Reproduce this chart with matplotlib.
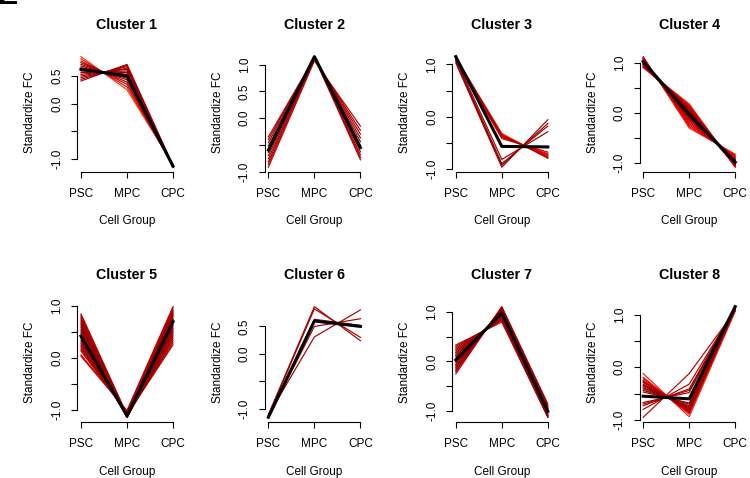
import numpy as np
import matplotlib
matplotlib.use("Agg")
import matplotlib.pyplot as plt
from matplotlib.colors import LinearSegmentedColormap

plt.rcParams['font.family'] = ['Liberation Sans', 'DejaVu Sans']

groups = ["PSC", "MPC", "CPC"]
titles = ["Cluster 1", "Cluster 2", "Cluster 3", "Cluster 4",
          "Cluster 5", "Cluster 6", "Cluster 7", "Cluster 8"]

# standardized fold change per gene: PSC, MPC, CPC, plus cluster membership
c1_psc = [0.85, 0.81, 0.77, 0.74, 0.71, 0.68, 0.65, 0.62, 0.59, 0.56, 0.53, 0.50, 0.47, 0.44, 0.41]
c1_mpc = [0.25, 0.30, 0.35, 0.39, 0.43, 0.46, 0.49, 0.53, 0.56, 0.59, 0.62, 0.64, 0.67, 0.69, 0.71]
c1_cpc = [-1.10, -1.11, -1.12, -1.13, -1.14, -1.14, -1.14, -1.15, -1.15, -1.15, -1.15, -1.14, -1.14, -1.13, -1.12]
c1_memb = [0.1, 0.3, 0.6, 0.75, 0.85, 0.9, 0.95, 0.95, 0.95, 0.9, 0.9, 0.85, 0.8, 0.75, 0.7]

c2_psc = [-0.35, -0.40, -0.46, -0.52, -0.58, -0.64, -0.70, -0.76, -0.82, -0.87, -0.92]
c2_mpc = [1.13, 1.14, 1.15, 1.15, 1.15, 1.15, 1.14, 1.13, 1.12, 1.10, 1.07]
c2_cpc = [-0.78, -0.74, -0.69, -0.63, -0.57, -0.51, -0.44, -0.37, -0.30, -0.23, -0.15]
c2_memb = [0.55, 0.75, 0.85, 0.9, 0.95, 0.9, 0.85, 0.8, 0.75, 0.65, 0.55]

c3_psc = [1.13, 1.13, 1.12, 1.12, 1.11, 1.11, 1.10, 1.14, 1.11, 1.08, 1.06, 1.03]
c3_mpc = [-0.32, -0.34, -0.35, -0.37, -0.38, -0.40, -0.42, -0.36, -0.82, -0.90, -0.93, -0.97]
c3_cpc = [-0.80, -0.79, -0.77, -0.75, -0.73, -0.71, -0.68, -0.78, -0.29, -0.18, -0.13, -0.06]
c3_memb = [0.2, 0.25, 0.3, 0.35, 0.4, 0.45, 0.55, 0.8, 0.85, 0.85, 0.9, 0.9]

c4_psc = [0.90, 0.91, 0.92, 0.94, 0.95, 0.96, 0.97, 0.98, 0.99, 1.00, 1.01, 1.02, 1.03,
          1.04, 1.05, 1.06, 1.07, 1.08, 1.09, 1.10, 1.11, 1.12, 0.93, 1.00, 1.03, 0.97]
c4_mpc = [0.18, 0.16, 0.14, 0.12, 0.10, 0.08, 0.06, 0.04, 0.02, 0.00, -0.02, -0.04, -0.06,
          -0.08, -0.10, -0.12, -0.15, -0.18, -0.21, -0.24, -0.27, -0.30, 0.05, -0.08, 0.02, -0.03]
c4_cpc = [-1.08, -1.07, -1.06, -1.06, -1.05, -1.04, -1.03, -1.02, -1.01, -1.00, -0.99, -0.98, -0.97,
          -0.96, -0.95, -0.94, -0.92, -0.90, -0.88, -0.86, -0.84, -0.82, -0.98, -0.92, -1.05, -0.94]
c4_memb = [0.2, 0.3, 0.4, 0.5, 0.6, 0.7, 0.8, 0.85, 0.9, 0.95, 0.95, 0.9, 0.85,
           0.8, 0.75, 0.7, 0.6, 0.5, 0.45, 0.35, 0.3, 0.2, 0.4, 0.45, 0.35, 0.55]

c5_psc = [0.85, 0.82, 0.79, 0.76, 0.73, 0.70, 0.67, 0.64, 0.61, 0.58, 0.55, 0.52, 0.49,
          0.46, 0.43, 0.40, 0.37, 0.34, 0.31, 0.28, 0.25, 0.22, 0.19, 0.16, 0.13, 0.06, 0.03]
c5_mpc = [-1.10, -1.11, -1.12, -1.13, -1.14, -1.14, -1.15, -1.15, -1.15, -1.15, -1.15, -1.15, -1.15,
          -1.15, -1.14, -1.14, -1.13, -1.13, -1.12, -1.11, -1.10, -1.09, -1.08, -1.07, -1.06, -1.03, -1.02]
c5_cpc = [0.25, 0.29, 0.33, 0.37, 0.41, 0.44, 0.48, 0.51, 0.54, 0.57, 0.60, 0.63, 0.66,
          0.69, 0.71, 0.74, 0.76, 0.79, 0.81, 0.83, 0.85, 0.87, 0.89, 0.91, 0.93, 0.97, 0.99]
c5_memb = [0.6, 0.65, 0.7, 0.75, 0.8, 0.85, 0.85, 0.9, 0.9, 0.95, 0.95, 0.95, 0.95,
           0.95, 0.9, 0.9, 0.85, 0.85, 0.8, 0.8, 0.75, 0.7, 0.7, 0.65, 0.6, 0.6, 0.55]

c6_psc = [-1.10, -1.12, -1.15, -1.14, -1.11]
c6_mpc = [0.86, 0.82, 0.63, 0.50, 0.31]
c6_cpc = [0.24, 0.30, 0.52, 0.64, 0.80]
c6_memb = [0.75, 0.8, 0.9, 0.85, 0.75]

c7_psc = [0.33, 0.30, 0.27, 0.24, 0.21, 0.18, 0.15, 0.12, 0.09, 0.06, 0.03, 0.00,
          -0.03, -0.06, -0.09, -0.12, -0.15, -0.18, -0.21, -0.25]
c7_mpc = [0.79, 0.82, 0.84, 0.86, 0.88, 0.90, 0.92, 0.94, 0.95, 0.97, 0.99, 1.00,
          1.02, 1.03, 1.04, 1.06, 1.07, 1.08, 1.09, 1.10]
c7_cpc = [-1.12, -1.12, -1.11, -1.10, -1.09, -1.08, -1.07, -1.06, -1.04, -1.03, -1.02, -1.00,
          -0.99, -0.97, -0.95, -0.94, -0.92, -0.90, -0.88, -0.85]
c7_memb = [0.6, 0.65, 0.7, 0.75, 0.8, 0.85, 0.85, 0.9, 0.9, 0.95, 0.95, 0.95,
           0.9, 0.9, 0.85, 0.85, 0.8, 0.75, 0.7, 0.6]

c8_psc = [-0.12, -0.19, -0.22, -0.25, -0.27, -0.29, -0.32, -0.34, -0.36, -0.39, -0.41, -0.44,
          -0.47, -0.67, -0.70, -0.73, -0.80, -0.95]
c8_mpc = [-0.94, -0.89, -0.87, -0.85, -0.84, -0.82, -0.80, -0.79, -0.77, -0.75, -0.73, -0.70,
          -0.68, -0.48, -0.44, -0.41, -0.32, -0.12]
c8_cpc = [1.06, 1.08, 1.09, 1.10, 1.11, 1.11, 1.12, 1.13, 1.13, 1.14, 1.14, 1.14,
          1.15, 1.15, 1.14, 1.14, 1.12, 1.07]
c8_memb = [0.2, 0.3, 0.4, 0.5, 0.65, 0.75, 0.8, 0.85, 0.9, 0.9, 0.95, 0.9,
           0.85, 0.8, 0.75, 0.7, 0.65, 0.6]

# cluster centres (black lines)
cen_psc = [0.62, -0.60, 1.15, 1.02, 0.42, -1.15, 0.03, -0.55]
cen_mpc = [0.50, 1.15, -0.57, -0.03, -1.12, 0.60, 0.97, -0.60]
cen_cpc = [-1.13, -0.55, -0.58, -0.98, 0.70, 0.50, -1.00, 1.15]

# y tick labels R kept (the others were dropped for overlap)
shown_labels = [["-1.0", "0.0", "0.5"],
                ["-1.0", "0.0", "0.5", "1.0"],
                ["-1.0", "0.0", "1.0"],
                ["-1.0", "0.0", "1.0"],
                ["-1.0", "0.0", "1.0"],
                ["-1.0", "0.0", "0.5"],
                ["-1.0", "0.0", "1.0"],
                ["-1.0", "0.0", "1.0"]]

clusters = [(c1_psc, c1_mpc, c1_cpc, c1_memb), (c2_psc, c2_mpc, c2_cpc, c2_memb),
            (c3_psc, c3_mpc, c3_cpc, c3_memb), (c4_psc, c4_mpc, c4_cpc, c4_memb),
            (c5_psc, c5_mpc, c5_cpc, c5_memb), (c6_psc, c6_mpc, c6_cpc, c6_memb),
            (c7_psc, c7_mpc, c7_cpc, c7_memb), (c8_psc, c8_mpc, c8_cpc, c8_memb)]

# low membership -> orange red, high membership -> dark red
cmap = LinearSegmentedColormap.from_list(
    "memb", [(0.0, "#FF5020"), (0.35, "#E80000"), (0.7, "#A80000"), (1.0, "#8E0000")])

W, H = 750, 478
fig = plt.figure(figsize=(W / 100, H / 100), dpi=100)

x = np.arange(1, 4)
for i, (psc, mpc, cpc, memb) in enumerate(clusters):
    row, col = divmod(i, 4)
    left = 77.3 + 187.4 * col
    top = 52.2 + 250 * row
    ax = fig.add_axes([left / W, 1 - (top + 119.5) / H, 99.4 / W, 119.5 / H])

    order = np.argsort(memb)
    for k in order:
        ax.plot(x, [psc[k], mpc[k], cpc[k]], color=cmap(memb[k]), lw=0.85)
    ax.plot(x, [cen_psc[i], cen_mpc[i], cen_cpc[i]], color="black", lw=2.2)

    ax.margins(x=0.04, y=0.04)
    lo, hi = ax.get_ylim()
    ticks = [t for t in np.arange(-1.5, 1.51, 0.5) if lo <= t + 1e-9 and t - 1e-9 <= hi]
    labels = [f"{t:.1f}" if f"{t:.1f}" in shown_labels[i] else "" for t in ticks]
    ax.set_yticks(ticks, labels, rotation=90, va="center")
    ax.set_xticks(x, groups)
    ax.set_ylim(lo, hi)

    for side in ("top", "right"):
        ax.spines[side].set_visible(False)
    ax.spines["left"].set_bounds(ticks[0], ticks[-1])
    ax.spines["bottom"].set_bounds(1, 3)
    for side in ("left", "bottom"):
        ax.spines[side].set_linewidth(0.8)
    ax.tick_params(length=4, width=0.8, labelsize=8.5)
    ax.tick_params(axis="x", pad=8)
    ax.tick_params(axis="y", pad=6)

    ax.set_title(titles[i], fontsize=10.3, fontweight="bold", pad=17)
    ax.set_xlabel("Cell Group", fontsize=8.5, va="center")
    ax.xaxis.set_label_coords(0.5, -49.8 / 119.5)
    ax.set_ylabel("Standardize FC", fontsize=8.5, va="center")
    ax.yaxis.set_label_coords(-47 / 99.4, 0.5)

# panel letter, cut off by the top edge as in the source figure
fig.text(-0.003, 1 - 4.5 / H, "E", fontsize=22, fontweight="bold", va="baseline", ha="left")

fig.savefig("out.png", dpi=100)
